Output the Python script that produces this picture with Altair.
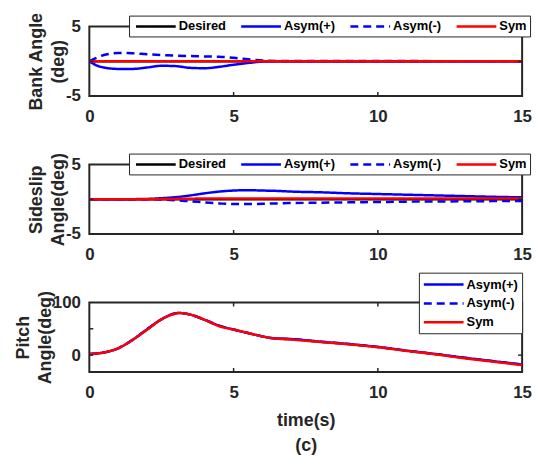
import altair as alt
import pandas as pd

# ---- series definitions ----
SERIES = ["Desired", "Asym(+)", "Asym(-)", "Sym"]
COLORS = ["#000000", "#0000FF", "#0000FF", "#FF0000"]
DASHES = [[1, 0], [1, 0], [8, 5], [1, 0]]

# ---- bank angle (deg) ----
bank_t = [0, 0.25, 0.5, 0.75, 1, 1.5, 2, 2.5, 3, 3.5, 4, 4.5, 5, 5.5, 6, 6.5, 7, 8, 9, 10, 11, 12, 13, 14, 15]
bank_desired = [0] * 25
bank_asym_pos = [0, -0.6, -0.9, -1.05, -1.1, -1.1, -0.9, -0.65, -0.7, -0.95, -1.0, -0.8, -0.5, -0.25, -0.05, 0, 0, 0, 0, 0, 0, 0, 0, 0, 0]
bank_asym_neg = [0, 0.5, 0.9, 1.1, 1.2, 1.15, 1.0, 0.9, 0.8, 0.75, 0.7, 0.65, 0.5, 0.3, 0.1, 0.05, 0.05, 0.05, 0.05, 0.05, 0.03, 0.02, 0.02, 0.02, 0.02]
bank_sym = [0] * 25

# ---- sideslip angle (deg) ----
slip_t = [0, 1, 2, 2.5, 3, 3.5, 4, 4.5, 5, 5.5, 6, 6.5, 7, 8, 9, 10, 11, 12, 13, 14, 15]
slip_desired = [0] * 21
slip_asym_pos = [0, 0, 0.05, 0.15, 0.3, 0.55, 0.85, 1.1, 1.25, 1.3, 1.25, 1.2, 1.1, 1.0, 0.85, 0.75, 0.65, 0.55, 0.45, 0.35, 0.27]
slip_asym_neg = [0, 0, 0, -0.05, -0.15, -0.3, -0.45, -0.6, -0.7, -0.7, -0.65, -0.6, -0.55, -0.5, -0.45, -0.4, -0.35, -0.32, -0.3, -0.27, -0.25]
slip_sym = [0, 0, 0, 0.02, 0.05, 0.08, 0.1, 0.1, 0.1, 0.1, 0.1, 0.1, 0.1, 0.1, 0.1, 0.1, 0.1, 0.1, 0.1, 0.1, 0.1]

# ---- pitch angle (deg) ----
pitch_t = [0, 0.5, 1, 1.5, 2, 2.5, 3, 3.1, 3.5, 4, 4.5, 5, 5.5, 6, 6.3, 7, 8, 9, 10, 11, 12, 13, 14, 15]
pitch_asym_pos = [2, 5, 13, 29, 49, 68, 79.5, 80, 77, 67, 56, 48.5, 42, 35.5, 32.5, 30.5, 25.5, 21, 15.5, 8.5, 2, -5, -11.5, -18]
pitch_asym_neg = [2, 5, 13, 29, 49, 68, 79.5, 80, 77, 67, 56, 48.5, 42, 35.5, 32.5, 30.5, 25.5, 21, 15.5, 8.5, 2, -5, -11.5, -18]
pitch_sym = [2, 5, 13, 29, 48, 68, 79, 80, 77, 67, 55, 48.5, 42, 35.5, 32.5, 29.5, 25, 20.5, 15, 8, 1.5, -6, -12.5, -19]

FONT = "Liberation Sans"
INK = "#262626"
W, H = 436, 70

# legend line sample: custom path spanning +-3 units, so the nominal
# symbol size stays small while the drawn sample is ~40px long
LINE_PATH = "M-3,0H3"
SYM_SIZE = 178

MINUS_FIX = "replace(datum.label, '\u2212', '-')"


def long_frame(t, named):
    rows = []
    for name, vals in named:
        for ti, v in zip(t, vals):
            rows.append({"t": ti, "v": v, "series": name})
    return pd.DataFrame(rows)


def panel(df, names, ydomain, yticks, inner_yticks, ytitle, legend, xtitle=None):
    colors = [COLORS[SERIES.index(n)] for n in names]
    dashes = [DASHES[SERIES.index(n)] for n in names]
    color = alt.Color("series:N", scale=alt.Scale(domain=names, range=colors), legend=legend)
    dash = alt.StrokeDash("series:N", scale=alt.Scale(domain=names, range=dashes), legend=legend)
    xaxis = alt.Axis(values=[0, 5, 10, 15], tickSize=0, domain=False, grid=False,
                     labelFont=FONT, labelFontWeight="bold", labelFontSize=17, labelColor=INK,
                     labelPadding=13, labelFlush=False, labelOverlap=False,
                     title=xtitle if xtitle else None, titleFont=FONT, titleFontWeight="bold",
                     titleFontSize=18, titleColor=INK, titleLineHeight=25, titlePadding=11)
    yaxis = alt.Axis(values=yticks, tickSize=0, domain=False, grid=False,
                     labelFont=FONT, labelFontWeight="bold", labelFontSize=17, labelColor=INK,
                     labelPadding=9, labelOverlap=False, labelFlush=False, labelExpr=MINUS_FIX,
                     title=ytitle, titleFont=FONT, titleFontWeight="bold",
                     titleFontSize=18, titleColor=INK, titleLineHeight=22, titlePadding=-2)
    x = alt.X("t:Q", scale=alt.Scale(domain=[0, 15], nice=False), axis=xaxis)
    y = alt.Y("v:Q", scale=alt.Scale(domain=ydomain, nice=False, zero=False), axis=yaxis)

    layers = []
    for n in names:
        layers.append(
            alt.Chart(df).transform_filter(alt.datum.series == n)
            .mark_line(strokeWidth=2.5, interpolate="monotone", clip=True)
            .encode(x=x, y=y, color=color, strokeDash=dash)
        )

    # inward tick marks on all four sides
    xt = pd.DataFrame({"t": [5, 10]})
    yt = pd.DataFrame({"v": inner_yticks})
    tick = dict(color=INK, strokeWidth=1.5)
    layers.append(alt.Chart(xt).mark_rule(**tick).encode(x="t:Q", y=alt.value(H), y2=alt.value(H - 4)))
    layers.append(alt.Chart(xt).mark_rule(**tick).encode(x="t:Q", y=alt.value(0), y2=alt.value(4)))
    layers.append(alt.Chart(yt).mark_rule(**tick).encode(y="v:Q", x=alt.value(0), x2=alt.value(4)))
    layers.append(alt.Chart(yt).mark_rule(**tick).encode(y="v:Q", x=alt.value(W), x2=alt.value(W - 4)))

    return alt.layer(*layers).properties(width=W, height=H)


def make_legend(x, y, horizontal):
    return alt.Legend(
        orient="none", legendX=x, legendY=y, title=None,
        direction="horizontal" if horizontal else "vertical",
        columns=4 if horizontal else 1,
        symbolType=LINE_PATH, symbolSize=SYM_SIZE, symbolStrokeWidth=2.5,
        symbolOffset=16 if horizontal else 13,
        labelOffset=15,
        labelFont=FONT, labelFontWeight="bold", labelFontSize=13, labelColor="#000000",
        columnPadding=9, rowPadding=4, padding=3 if horizontal else 4,
        fillColor="white", strokeColor=INK, cornerRadius=0,
    )


bank_df = long_frame(bank_t, [("Desired", bank_desired), ("Asym(+)", bank_asym_pos),
                              ("Asym(-)", bank_asym_neg), ("Sym", bank_sym)])
slip_df = long_frame(slip_t, [("Desired", slip_desired), ("Asym(+)", slip_asym_pos),
                              ("Asym(-)", slip_asym_neg), ("Sym", slip_sym)])
pitch_df = long_frame(pitch_t, [("Asym(+)", pitch_asym_pos), ("Asym(-)", pitch_asym_neg),
                                ("Sym", pitch_sym)])

p1 = panel(bank_df, SERIES, [-5, 5], [-5, 0, 5], [0], ["Bank Angle", "(deg)"],
           make_legend(40, -11, True))
p2 = panel(slip_df, SERIES, [-5, 5], [-5, 0, 5], [0], ["Sideslip", "Angle(deg)"],
           make_legend(40, -11, True))
p3 = panel(pitch_df, ["Asym(+)", "Asym(-)", "Sym"], [-32, 100], [0, 50, 100], [0, 50],
           ["Pitch", "Angle(deg)"], make_legend(332, -30, False), xtitle=["time(s)", "(c)"])

chart = (
    alt.vconcat(p1, p2, p3, spacing=69, bounds="flush")
    .resolve_scale(color="independent", strokeDash="independent")
    .resolve_legend(color="independent", strokeDash="independent")
    .properties(padding={"left": 13, "top": 9, "right": 5, "bottom": 5}, background="white")
    .configure_view(stroke=INK, strokeWidth=2)
)

chart.save("out.html", embed_options={"renderer": "svg", "actions": False})
